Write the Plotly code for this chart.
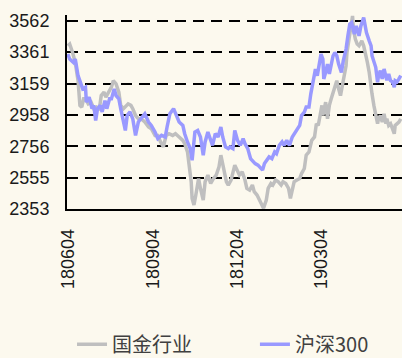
import plotly.graph_objects as go

# ---- data ----
gj_dates = ["2018-06-04","2018-06-06","2018-06-09","2018-06-12","2018-06-15","2018-06-17","2018-06-19","2018-06-21","2018-06-23","2018-06-26","2018-06-29",
"2018-07-02","2018-07-05","2018-07-08","2018-07-10","2018-07-13","2018-07-15","2018-07-18","2018-07-21","2018-07-23","2018-07-26","2018-07-29","2018-07-31",
"2018-08-03","2018-08-06","2018-08-08","2018-08-11","2018-08-13","2018-08-16","2018-08-19","2018-08-22","2018-08-26","2018-08-30",
"2018-09-02","2018-09-06","2018-09-09","2018-09-12","2018-09-15","2018-09-18","2018-09-21","2018-09-25","2018-09-28",
"2018-10-02","2018-10-06","2018-10-08","2018-10-11","2018-10-13","2018-10-15","2018-10-16","2018-10-18","2018-10-20","2018-10-22","2018-10-23","2018-10-25","2018-10-28","2018-10-30",
"2018-11-02","2018-11-05","2018-11-07","2018-11-11","2018-11-14","2018-11-16","2018-11-19","2018-11-22","2018-11-24","2018-11-27",
"2018-12-01","2018-12-04","2018-12-06","2018-12-09","2018-12-12","2018-12-14","2018-12-17","2018-12-20","2018-12-22","2018-12-25","2018-12-28","2018-12-30",
"2019-01-01","2019-01-04","2019-01-06","2019-01-09","2019-01-11","2019-01-14","2019-01-17","2019-01-20","2019-01-22","2019-01-25","2019-01-28","2019-01-30",
"2019-02-01","2019-02-03","2019-02-06","2019-02-09","2019-02-11","2019-02-14","2019-02-16","2019-02-19","2019-02-22","2019-02-25","2019-02-27",
"2019-03-01","2019-03-03","2019-03-05","2019-03-06","2019-03-09","2019-03-11","2019-03-13","2019-03-15","2019-03-17","2019-03-19","2019-03-21","2019-03-23","2019-03-25","2019-03-27","2019-03-29","2019-03-31",
"2019-04-01","2019-04-03","2019-04-05","2019-04-07","2019-04-08","2019-04-10","2019-04-12","2019-04-14","2019-04-16","2019-04-17","2019-04-19","2019-04-21","2019-04-23","2019-04-25","2019-04-26","2019-04-28","2019-04-30",
"2019-05-02","2019-05-04","2019-05-05","2019-05-07","2019-05-09","2019-05-11","2019-05-13","2019-05-14","2019-05-16","2019-05-18","2019-05-20","2019-05-22","2019-05-23","2019-05-25","2019-05-27","2019-05-29"]
gj_values = [3402,3413,3361,3295,3178,3019,3008,3061,3061,3029,3040,
2998,3008,2998,3082,3104,3072,3104,3136,3178,3157,3104,3019,
2998,3019,3029,3019,2998,2954,2933,2933,2912,2880,
2869,2826,2826,2784,2752,2826,2837,2826,2837,
2816,2794,2773,2720,2624,2528,2421,2379,2443,2517,2549,2485,2411,2528,
2571,2517,2539,2571,2624,2699,2613,2528,2507,2539,
2635,2592,2571,2592,2539,2485,2475,2507,2464,2443,2411,2379,
2358,2411,2485,2517,2507,2539,2528,2507,2528,2517,2485,2421,
2485,2528,2539,2549,2581,2613,2699,2720,2794,2816,2901,
2890,2954,3019,2954,3040,2933,3019,3061,3104,3150,3178,3125,3082,3146,3210,3274,
3359,3445,3509,3594,3509,3445,3413,3402,3423,3434,3402,3359,3295,3231,3167,3093,3019,
2954,2901,2933,2954,2912,2965,2901,2933,2890,2901,2869,2837,2890,2901,2912,2933]

hs_dates = ["2018-06-04","2018-06-06","2018-06-10","2018-06-12","2018-06-15","2018-06-17","2018-06-20","2018-06-23","2018-06-24","2018-06-27","2018-06-30",
"2018-07-02","2018-07-04","2018-07-06","2018-07-09","2018-07-11","2018-07-14","2018-07-16","2018-07-19","2018-07-21","2018-07-24","2018-07-26","2018-07-29","2018-07-31",
"2018-08-02","2018-08-05","2018-08-07","2018-08-10","2018-08-13","2018-08-16","2018-08-19","2018-08-22","2018-08-26","2018-08-30",
"2018-09-02","2018-09-06","2018-09-09","2018-09-13","2018-09-17","2018-09-19","2018-09-22","2018-09-26","2018-09-28",
"2018-10-02","2018-10-06","2018-10-08","2018-10-11","2018-10-14","2018-10-16","2018-10-19","2018-10-22","2018-10-25","2018-10-28","2018-10-30",
"2018-11-02","2018-11-05","2018-11-07","2018-11-10","2018-11-13","2018-11-16","2018-11-18","2018-11-21","2018-11-24","2018-11-26","2018-11-29",
"2018-12-01","2018-12-04","2018-12-07","2018-12-10","2018-12-12","2018-12-15","2018-12-18","2018-12-21","2018-12-23","2018-12-26","2018-12-29","2018-12-31",
"2019-01-02","2019-01-05","2019-01-07","2019-01-10","2019-01-13","2019-01-15","2019-01-18","2019-01-21","2019-01-23","2019-01-26","2019-01-29",
"2019-02-01","2019-02-03","2019-02-06","2019-02-09","2019-02-11","2019-02-14","2019-02-16","2019-02-19","2019-02-21","2019-02-23","2019-02-25","2019-02-26","2019-02-28",
"2019-03-02","2019-03-04","2019-03-06","2019-03-07","2019-03-09","2019-03-11","2019-03-13","2019-03-15","2019-03-17","2019-03-19","2019-03-21","2019-03-23","2019-03-26","2019-03-28","2019-03-31",
"2019-04-02","2019-04-04","2019-04-06","2019-04-08","2019-04-09","2019-04-11","2019-04-14","2019-04-16","2019-04-19","2019-04-20","2019-04-22","2019-04-25","2019-04-27","2019-04-28","2019-04-30",
"2019-05-02","2019-05-04","2019-05-05","2019-05-07","2019-05-09","2019-05-11","2019-05-13","2019-05-14","2019-05-16","2019-05-18","2019-05-20","2019-05-22","2019-05-23","2019-05-25","2019-05-27","2019-05-29"]
hs_values = [3349,3317,3295,3317,3210,3178,3125,3136,3040,3072,2998,
3019,2922,2998,3019,2977,3050,2998,3061,3061,3125,3082,3061,2998,
2934,2858,2954,2977,2933,2826,2912,2933,2965,2912,
2890,2848,2805,2826,2816,2880,2965,2998,2965,
2912,2890,2837,2784,2741,2666,2848,2858,2816,2699,2784,
2848,2805,2762,2837,2816,2880,2816,2752,2741,2752,2741,
2858,2794,2762,2805,2773,2741,2677,2656,2645,2635,2618,2603,
2645,2666,2688,2677,2720,2709,2762,2784,2762,2794,2762,
2816,2837,2869,2890,2954,2975,3008,3008,3093,3157,3242,3253,3210,
3295,3349,3317,3189,3231,3285,3221,3274,3338,3359,3338,3285,3231,3306,3381,
3466,3541,3551,3498,3477,3530,3466,3530,3583,3551,3487,3434,3402,3338,3295,
3264,3167,3210,3242,3189,3253,3200,3180,3221,3178,3170,3136,3178,3170,3189,3210]

y_ticks = [2353, 2555, 2756, 2958, 3159, 3361, 3562]
x_ticks = ["2018-06-04", "2018-09-04", "2018-12-04", "2019-03-04"]
names = ["国金行业", "沪深300"]

bg = "#FCF9EE"

fig = go.Figure()
fig.add_trace(go.Scatter(x=gj_dates, y=gj_values, mode="lines", name=names[0],
                         line=dict(color="#BFBFBF", width=3.5), legend="legend"))
fig.add_trace(go.Scatter(x=hs_dates, y=hs_values, mode="lines", name=names[1],
                         line=dict(color="#9999FF", width=3.5), legend="legend2"))

legend_common = dict(orientation="h", xanchor="left", yanchor="top",
                     yref="container",
                     font=dict(family="Noto Sans CJK SC", size=20, color="#404040"),
                     bgcolor="rgba(0,0,0,0)", itemwidth=30)

fig.update_layout(
    width=402, height=358,
    margin=dict(l=67, r=0, t=15, b=149),
    paper_bgcolor=bg, plot_bgcolor=bg,
    font=dict(family="Liberation Sans, Arial, sans-serif", color="#1a1a1a", size=18),
    showlegend=True,
    legend=dict(x=0.015, y=0.093, **legend_common),
    legend2=dict(x=0.561, y=0.093, **legend_common),
)
fig.update_xaxes(
    type="date",
    range=["2018-06-03 02:00", "2019-05-30 08:00"],
    tickvals=x_ticks, tickformat="%y%m%d", tickangle=-90,
    showgrid=False, zeroline=False, automargin=False,
    showline=True, linecolor="#000000", linewidth=1.5,
    ticks="", ticklabelstandoff=11,
    tickfont=dict(size=18),
)
fig.update_yaxes(
    range=[2353, 3600], automargin=False,
    tickvals=y_ticks, ticktext=[str(v) for v in y_ticks],
    showgrid=True, gridcolor="#000000", gridwidth=2, griddash="11px,7px",
    zeroline=False,
    showline=True, linecolor="#000000", linewidth=2,
    ticks="", ticklabelstandoff=12,
    tickfont=dict(size=18),
)

fig.write_html("out.html")
